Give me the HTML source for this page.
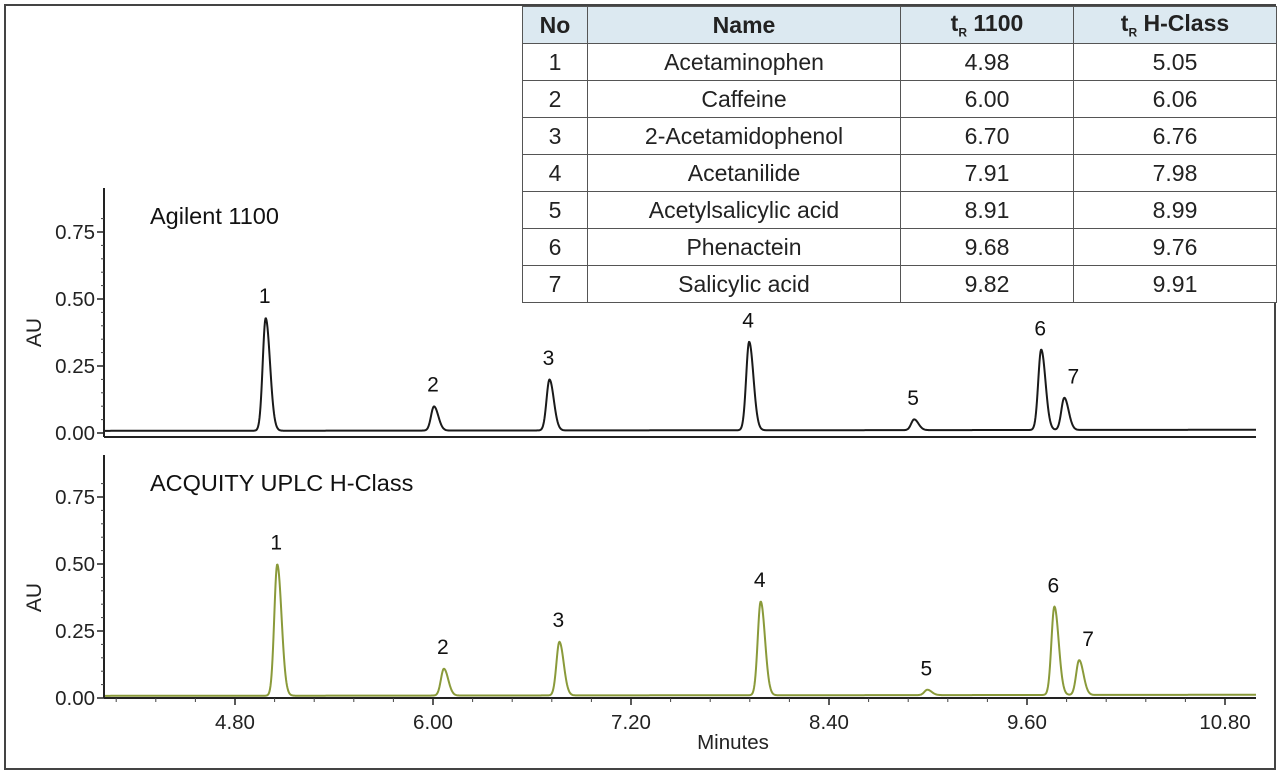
<!DOCTYPE html>
<html><head><meta charset="utf-8">
<style>
html,body{margin:0;padding:0;background:#fff;}
body{width:1280px;height:774px;position:relative;overflow:hidden;font-family:"Liberation Sans",sans-serif;}
#frame{position:absolute;left:4px;top:4px;width:1268px;height:762px;border:2px solid #444;}
svg{position:absolute;left:0;top:0;}
#tbl{position:absolute;left:522px;top:6px;border-collapse:collapse;font-family:"Liberation Sans Narrow","Liberation Sans",sans-serif;font-size:23px;color:#222;background:#fff;}
#tbl td,#tbl th{border:1.5px solid #555;text-align:center;padding:0;height:36px;}
#tbl th{background:#dce9f1;font-weight:bold;}
sub{font-size:12px;}
</style></head><body>
<div id="frame"></div>
<svg id="chart" width="1280" height="774"></svg>
<table id="tbl">
<tr><th style="width:64px">No</th><th style="width:312px">Name</th><th style="width:172px">t<sub>R</sub> 1100</th><th style="width:202px">t<sub>R</sub> H-Class</th></tr>
<tr><td>1</td><td>Acetaminophen</td><td>4.98</td><td>5.05</td></tr>
<tr><td>2</td><td>Caffeine</td><td>6.00</td><td>6.06</td></tr>
<tr><td>3</td><td>2-Acetamidophenol</td><td>6.70</td><td>6.76</td></tr>
<tr><td>4</td><td>Acetanilide</td><td>7.91</td><td>7.98</td></tr>
<tr><td>5</td><td>Acetylsalicylic acid</td><td>8.91</td><td>8.99</td></tr>
<tr><td>6</td><td>Phenactein</td><td>9.68</td><td>9.76</td></tr>
<tr><td>7</td><td>Salicylic acid</td><td>9.82</td><td>9.91</td></tr>
</table>
<script>
const peakLabels = ["1","2","3","4","5","6","7"];
const rt1100 = [4.98, 6.00, 6.70, 7.91, 8.91, 9.68, 9.82];
const h1100 = [0.42, 0.09, 0.19, 0.33, 0.04, 0.30, 0.12];
const rtHClass = [5.05, 6.06, 6.76, 7.98, 8.99, 9.76, 9.91];
const hHClass = [0.49, 0.10, 0.20, 0.35, 0.02, 0.33, 0.13];
const xTicks = [4.80, 6.00, 7.20, 8.40, 9.60, 10.80];
const yTicks = [0.00, 0.25, 0.50, 0.75];

const NS = "http://www.w3.org/2000/svg";
const svg = document.getElementById("chart");
const X0 = 104, X1 = 1256, T0 = 4.0;
function xs(t){ return 235 + (t - 4.8) * 165; }
function mk(tag, attrs, parent){ const e = document.createElementNS(NS, tag); for (const k in attrs) e.setAttribute(k, attrs[k]); (parent||svg).appendChild(e); return e; }

const panels = [
  {name:"agilent", title:"Agilent 1100", y0:433, top:188, axisY:437, rt:rt1100, h:h1100, color:"#1a1a1a"},
  {name:"hclass", title:"ACQUITY UPLC H-Class", y0:698, top:455, axisY:698, rt:rtHClass, h:hHClass, color:"#8a9a3a"}
];
panels.forEach(p => {
  const ys = v => p.y0 - v * 268;
  const g = mk("g", {});
  
  
  const ax = mk("line", {x1:X0, y1:p.top, x2:X0, y2:p.axisY, stroke:"#222", "stroke-width":2}, g);
  
  
  for (let v = 0; v <= 0.85; v += 0.05) mk("line", {x1:X0-3, y1:ys(v), x2:X0, y2:ys(v), stroke:"#444", "stroke-width":1}, g);
  yTicks.forEach(v => {
    mk("line", {x1:X0-7, y1:ys(v), x2:X0, y2:ys(v), stroke:"#222", "stroke-width":1.5}, g);
    const t = mk("text", {x:X0-9, y:ys(v)+7, "text-anchor":"end", "font-size":20.5, fill:"#222"}, g);
    t.textContent = v.toFixed(2);
    
    
  });
  const au = mk("text", {x:0, y:0, transform:`translate(41 ${ys(0.375)}) rotate(-90)`, "text-anchor":"middle", "font-size":21, fill:"#222"}, g);
  au.textContent = "AU";
  
  
  const xa = mk("line", {x1:X0, y1:p.axisY, x2:X1, y2:p.axisY, stroke:"#222", "stroke-width":2}, g);
  
  
  if (p.name === "hclass") {
    for (let t = 4.08; t < 11; t += 0.24) mk("line", {x1:xs(t), y1:p.axisY, x2:xs(t), y2:p.axisY+4, stroke:"#444", "stroke-width":1}, g);
    xTicks.forEach(t => {
      mk("line", {x1:xs(t), y1:p.axisY, x2:xs(t), y2:p.axisY+7, stroke:"#222", "stroke-width":1.5}, g);
      const tl = mk("text", {x:xs(t), y:p.axisY+31, "text-anchor":"middle", "font-size":20.5, fill:"#222"}, g);
      tl.textContent = t.toFixed(2);
      
      
    });
  }
  const ti = mk("text", {x:150, y:p.top+36, "font-size":23.5, fill:"#111"}, g);
  ti.textContent = p.title;
  
  
  let d = "";
  for (let px = X0 + 1; px <= X1; px += 0.5) {
    const t = T0 + (px - X0) / 165;
    let v = 0.008 + 0.004 * (t - 4) / 7;
    for (let i = 0; i < p.rt.length; i++) {
      const dt = t - p.rt[i];
      const s = dt < 0 ? 0.018 : 0.026;
      v += p.h[i] * Math.exp(-dt * dt / (2 * s * s));
    }
    d += (d ? "L" : "M") + px.toFixed(1) + " " + ys(v).toFixed(1);
  }
  const tr = mk("path", {d:d, fill:"none", stroke:p.color, "stroke-width":2, "stroke-linejoin":"round"}, g);
  
  
  p.rt.forEach((t, i) => {
    const lx = xs(t) + (i === 6 ? 10 : 0);
    const pl = mk("text", {x:lx, y:ys(p.h[i] + 0.012) - 14, "text-anchor":"middle", "font-size":21, fill:"#111"}, g);
    pl.textContent = peakLabels[i];
    
    
  });
});
const xt = mk("text", {x:733, y:749, "text-anchor":"middle", "font-size":20.5, fill:"#222"});
xt.textContent = "Minutes";


</script>
</body></html>
